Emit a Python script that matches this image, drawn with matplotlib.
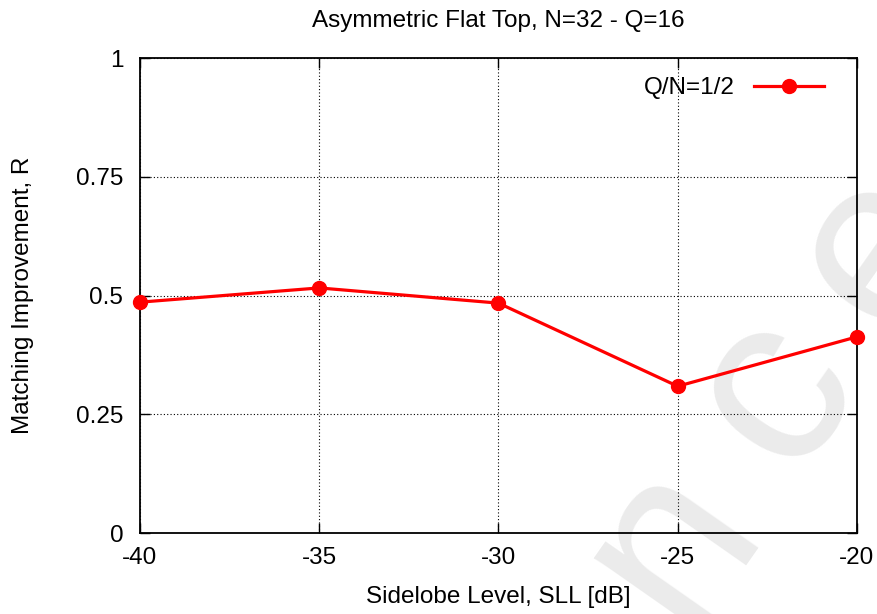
import matplotlib
matplotlib.use("Agg")
import matplotlib.pyplot as plt

plt.rcParams['font.family'] = ['Liberation Sans', 'DejaVu Sans']

# data
sll = [-40, -35, -30, -25, -20]
ratio = [0.486, 0.516, 0.484, 0.309, 0.413]
series_label = "Q/N=1/2"

xticks = [-40, -35, -30, -25, -20]
yticks = [0, 0.25, 0.5, 0.75, 1]
yticklabels = ["0", "0.25", "0.5", "0.75", "1"]

# watermark letters, spread out along a diagonal
wm_letters = ["n", "c", "e"]
wm_x = [0.765, 0.883, 1.003]
wm_y = [0.12, 0.365, 0.595]

fs = 17.5

fig = plt.figure(figsize=(8.77, 6.14), dpi=100)
ax = fig.add_axes([0.1596, 0.1319, 0.8175, 0.7736])
ax.patch.set_alpha(0)

for ch, x, y in zip(wm_letters, wm_x, wm_y):
    fig.text(x, y, ch, fontsize=175, color='#ebebeb', rotation=55,
             ha='center', va='center', zorder=-5)

ax.plot(sll, ratio, color='#ff0000', lw=2.3, marker='o', ms=10,
        label=series_label, clip_on=False, zorder=5)

ax.set_xlim(-40, -20)
ax.set_ylim(0, 1)
ax.set_xticks(xticks)
ax.set_xticklabels([str(x) for x in xticks])
ax.set_yticks(yticks)
ax.set_yticklabels(yticklabels)

ax.grid(True, color='black', linestyle=(0, (1, 2)), lw=0.8)
ax.tick_params(direction='in', top=True, right=True, length=7, width=1,
               labelsize=fs)
ax.tick_params(axis='y', pad=12)
ax.tick_params(axis='x', pad=10)
for s in ax.spines.values():
    s.set_linewidth(1.3)

ax.set_title("Asymmetric Flat Top, N=32 - Q=16", fontsize=fs, pad=22)
ax.set_xlabel("Sidelobe Level, SLL [dB]", fontsize=fs, labelpad=12)
ax.set_ylabel("Matching Improvement, R", fontsize=fs, labelpad=30)

ax.legend(loc='upper right', frameon=False, markerfirst=False, fontsize=fs,
          handlelength=2.9, bbox_to_anchor=(0.975, 0.99), borderaxespad=0.2)

fig.savefig("out.png", dpi=100)
